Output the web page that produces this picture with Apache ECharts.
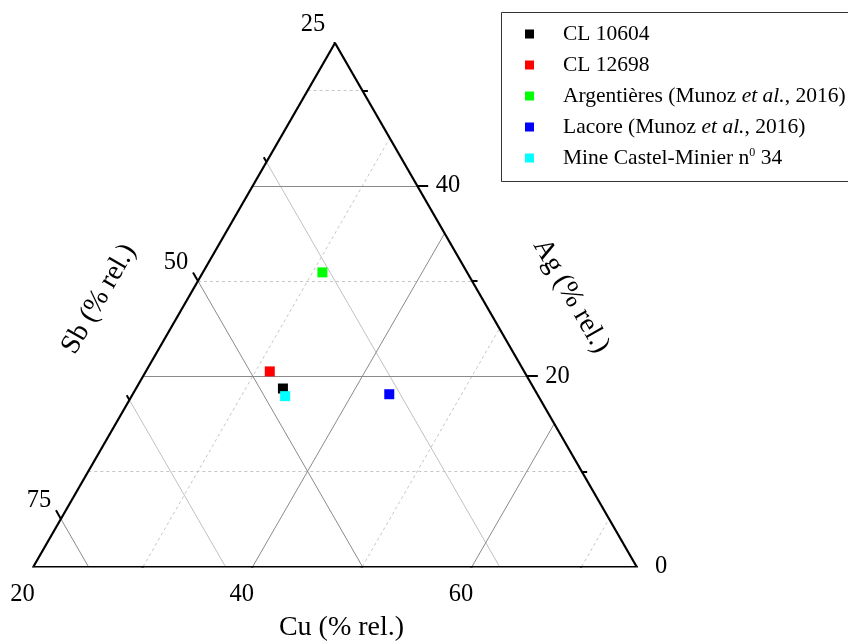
<!DOCTYPE html>
<html>
<head>
<meta charset="utf-8">
<script src="https://cdn.jsdelivr.net/npm/echarts@6/dist/echarts.min.js"></script>
<style>html,body{margin:0;padding:0;background:#fff}#chart{width:848px;height:642px}</style>
</head>
<body>
<div id="chart"></div>
<script>
// ---- data (ternary, % rel.) ----
const seriesNames = ['CL 10604', 'CL 12698', 'Argentières (Munoz et al., 2016)', 'Lacore (Munoz et al., 2016)', 'Mine Castel-Minier n0 34'];
const seriesColors = ['#000000', '#ff0000', '#00ff00', '#0000ff', '#00ffff'];
const cuValues = [33.4, 31.3, 30.9, 43.4, 34.0];
const agValues = [18.7, 20.5, 30.9, 18.1, 17.9];
const sbValues = [47.9, 48.2, 38.2, 38.5, 48.1];

// ---- axes ----
const cuMin = 20, agMin = 0, sbMin = 25, span = 55;
const cuMajorTicks = [20, 40, 60];
const cuMinorTicks = [30, 50, 70];
const agMajorTicks = [0, 20, 40];
const agMinorTicks = [10, 30, 50];
const sbMajorTicks = [25, 50, 75];
const sbMinorTicks = [37.5, 62.5];
const cuTickLabels = ['20', '40', '60'];
const agTickLabels = ['0', '20', '40'];
const sbTickLabels = ['25', '50', '75'];

const FONT = '"Liberation Serif", "Times New Roman", serif';

// ternary -> cartesian (x,y in [0,1])
function proj(cu, ag) {
  const c = (cu - cuMin) / span, a = (ag - agMin) / span;
  return [c + a / 2, a];
}
function cuLine(v) { return [proj(v, 0), proj(v, 100 - sbMin - v)]; }
function agLine(v) { return [proj(cuMin, v), proj(100 - sbMin - v, v)]; }
function sbLine(v) { return [proj(cuMin, 100 - cuMin - v), proj(100 - v, 0)]; }

function cuTick(v, d) { return [proj(v, 0), proj(v, -d)]; }
function agTick(v, d) { return [proj(100 - sbMin - v, v), proj(100 - sbMin - v + d, v)]; }
function sbTick(v, d) { return [proj(cuMin, 100 - cuMin - v), proj(cuMin - d, 100 - cuMin - v + d)]; }

const majorGrid = []
  .concat(cuMajorTicks.filter(v => v !== cuMin).map(cuLine))
  .concat(agMajorTicks.filter(v => v !== agMin).map(agLine))
  .concat(sbMajorTicks.filter(v => v !== sbMin).map(sbLine));
const dashedGrid = [].concat(cuMinorTicks.map(cuLine)).concat(agMinorTicks.map(agLine));
const lightGrid = sbMinorTicks.map(sbLine);
const edges = [cuLine(cuMin), agLine(agMin), sbLine(sbMin)];
const ticks = []
  .concat(cuMajorTicks.map(v => cuTick(v, 1.05)))
  .concat(cuMinorTicks.map(v => cuTick(v, 0.55)))
  .concat(agMajorTicks.map(v => agTick(v, 1.0)))
  .concat(agMinorTicks.map(v => agTick(v, 0.5)))
  .concat(sbMajorTicks.map(v => sbTick(v, 0.9)))
  .concat(sbMinorTicks.map(v => sbTick(v, 0.5)));

function linesSeries(segs, color, width, type, z) {
  return {
    type: 'lines', coordinateSystem: 'cartesian2d', silent: true, z: z,
    polyline: false, symbol: 'none',
    lineStyle: { color: color, width: width, type: type, opacity: 1 },
    data: segs.map(s => ({ coords: s }))
  };
}

function labelSeries(points, texts, offset, align) {
  return {
    type: 'scatter', silent: true, symbolSize: 1, z: 5,
    itemStyle: { color: 'rgba(0,0,0,0)', opacity: 1 },
    label: {
      show: true, position: 'inside', offset: offset, align: align, verticalAlign: 'middle',
      fontFamily: FONT, fontSize: 24.5, color: '#000000', opacity: 1,
      textBorderWidth: 0,
      formatter: p => p.name
    },
    data: points.map((p, i) => ({ name: texts[i], value: p }))
  };
}

const dataSeries = seriesNames.map((n, i) => ({
  type: 'scatter', name: n, symbol: 'rect', symbolSize: 10, z: 10,
  itemStyle: { color: seriesColors[i], opacity: 1 },
  data: [{ value: proj(cuValues[i], agValues[i]).concat([cuValues[i], agValues[i], sbValues[i]]) }]
}));

const titleStyle = { fontFamily: FONT, fontSize: 28, fill: '#000', align: 'center', verticalAlign: 'middle', textAlign: 'center', textVerticalAlign: 'middle' };

const chart = echarts.init(document.getElementById('chart'), null, { renderer: 'canvas' });
chart.setOption({
  animation: false,
  backgroundColor: '#ffffff',
  grid: { left: 33.5, top: 43, width: 603, height: 523.5, containLabel: false },
  xAxis: { type: 'value', min: 0, max: 1, show: false },
  yAxis: { type: 'value', min: 0, max: 1, show: false },
  legend: {
    data: seriesNames, orient: 'vertical', left: 501, top: 12,
    padding: [11, 60, 12, 24], itemGap: 9, itemWidth: 9, itemHeight: 9,
    borderWidth: 0, backgroundColor: 'transparent',
    selectedMode: false,
    textStyle: {
      fontFamily: FONT, fontSize: 21.5, color: '#000', lineHeight: 22, padding: [0, 0, 0, 24],
      rich: {
        i: { fontFamily: FONT, fontSize: 21.5, fontStyle: 'italic', color: '#000', lineHeight: 22 },
        sup: { fontFamily: FONT, fontSize: 12, color: '#000', verticalAlign: 'top', lineHeight: 14 }
      }
    },
    formatter: n => n.replace('et al.', '{i|et al.}').replace('n0 ', 'n{sup|0} ')
  },
  graphic: [
    { type: 'rect', silent: true, z: 0,
      shape: { x: 501.5, y: 12.5, width: 420, height: 169 },
      style: { fill: '#ffffff', stroke: '#333333', lineWidth: 1 } },
    { type: 'text', x: 341.5, y: 628, silent: true, style: Object.assign({ text: 'Cu (% rel.)' }, titleStyle) },
    { type: 'text', x: 99, y: 299, rotation: Math.PI / 3, silent: true, style: Object.assign({ text: 'Sb (% rel.)' }, titleStyle) },
    { type: 'text', x: 571, y: 296, rotation: -Math.PI / 3, silent: true, style: Object.assign({ text: 'Ag (% rel.)' }, titleStyle) }
  ],
  series: [
    linesSeries(dashedGrid, '#c6c6c6', 1, [3, 3], 1),
    linesSeries(lightGrid, '#c0c0c0', 1, 'solid', 1),
    linesSeries(majorGrid, '#8a8a8a', 1, 'solid', 2),
    linesSeries(edges, '#000000', 2.2, 'solid', 3),
    linesSeries(ticks, '#000000', 2, 'solid', 3),
    labelSeries(cuMajorTicks.map(v => proj(v, 0)), cuTickLabels, [-11, 28.5], 'center'),
    labelSeries(agMajorTicks.map(v => proj(100 - sbMin - v, v)), agTickLabels, [18.5, 0], 'left'),
    labelSeries(sbMajorTicks.map(v => proj(cuMin, 100 - cuMin - v)), sbTickLabels, [-22, -18], 'center')
  ].concat(dataSeries)
});
</script>
</body>
</html>
